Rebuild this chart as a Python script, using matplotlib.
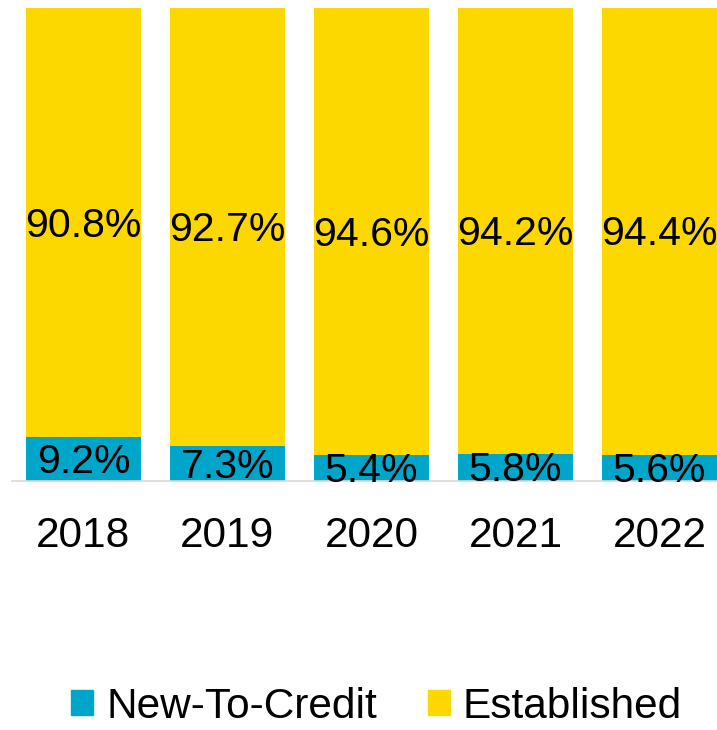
import matplotlib.pyplot as plt
from matplotlib.patches import Patch

years = ["2018", "2019", "2020", "2021", "2022"]
new_to_credit = [9.2, 7.3, 5.4, 5.8, 5.6]
established = [90.8, 92.7, 94.6, 94.2, 94.4]

BLUE = '#00A6C9'
YELLOW = '#FDD700'
FS = 30.5
LABEL_FS = 29.5

plt.rcParams['font.family'] = ['Liberation Sans', 'DejaVu Sans']

fig = plt.figure(figsize=(7.17, 7.3), dpi=100)
ax = fig.add_axes([11.5 / 717, 249 / 730, 720 / 717, 473 / 730])

x = list(range(len(years)))
ax.bar(x, new_to_credit, width=0.8, color=BLUE)
ax.bar(x, established, width=0.8, bottom=new_to_credit, color=YELLOW)

# value labels, centred in each segment
for i in x:
    lo, hi = new_to_credit[i], established[i]
    ax.annotate(f"{lo:.1f}%", (i, lo / 2), xytext=(0, -2), textcoords='offset points',
                ha='center', va='center', fontsize=LABEL_FS)
    ax.annotate(f"{hi:.1f}%", (i, lo + hi / 2), xytext=(0, -2), textcoords='offset points',
                ha='center', va='center', fontsize=LABEL_FS)

ax.set_xlim(-0.5, 4.5)
ax.set_ylim(0, 100)
ax.set_xticks(x)
ax.set_xticklabels(years, fontsize=FS)
ax.tick_params(axis='x', length=0, pad=25)
ax.set_yticks([])
for side in ['top', 'right', 'left']:
    ax.spines[side].set_visible(False)
ax.spines['bottom'].set_color('#D9D9D9')
ax.spines['bottom'].set_linewidth(1.2)

handles = [Patch(color=BLUE), Patch(color=YELLOW)]
fig.legend(handles, ["New-To-Credit", "Established"], loc='center',
           bbox_to_anchor=(0.525, 0.032), ncol=2, frameon=False, fontsize=FS,
           handlelength=0.52, handleheight=0.52, handletextpad=0.3,
           columnspacing=1.2, borderaxespad=0)

fig.savefig('out.png', dpi=100)
